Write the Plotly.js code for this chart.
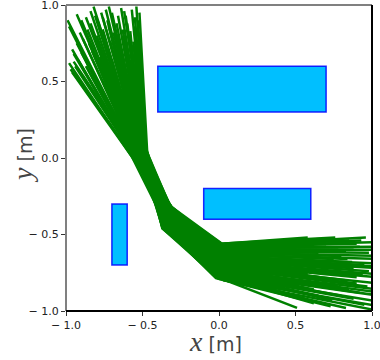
<!DOCTYPE html>
<html>
<head>
<meta charset="utf-8">
<script src="https://cdn.plot.ly/plotly-3.0.1.min.js"></script>
<style>html,body{margin:0;padding:0;background:#fff;}#chart{width:380px;height:360px;}</style>
</head>
<body>
<div id="chart"></div>
<script>
// Obstacles (x0, x1, y0, y1)
const obsX0 = [-0.4, -0.1, -0.7];
const obsX1 = [0.7, 0.6, -0.6];
const obsY0 = [0.3, -0.4, -0.7];
const obsY1 = [0.6, -0.2, -0.3];

// Trajectory waypoints: start, A, B, C, end
const startX = [-0.99,-0.93,-0.96,-0.95,-0.96,-0.87,-0.82,-0.77,-0.70,-0.91,-0.84,-0.76,-0.63,-0.54,-0.52,-0.52,-0.52,-0.57,-0.73,-0.69,-0.93,-0.94,-0.80,-0.66,-0.60,-0.55,-0.88,-0.78,-0.60,-0.56,-0.97,-0.85,-0.72,-0.64,-0.58,-0.90,-0.75,-0.68,-0.62,-0.53,
  -0.98,-0.90,-0.86,-0.79,-0.74,-0.67,-0.61,-0.58,-0.55,-0.53,-0.92,-0.89,-0.83,-0.81,-0.71,-0.65,-0.63,-0.59,-0.95,-0.87,-0.76,-0.70,-0.66,-0.57,-0.54,-0.98,-0.84,-0.78,-0.62,-0.72];
const startY = [0.90,0.94,0.71,0.63,0.56,0.92,0.99,0.95,0.95,0.82,0.88,0.92,0.84,0.99,0.95,0.82,0.59,0.97,0.90,0.82,0.75,0.60,0.80,0.93,0.70,0.92,0.66,0.72,0.88,0.76,0.58,0.75,0.86,0.98,0.64,0.69,0.78,0.70,0.78,0.70,
  0.86,0.90,0.84,0.89,0.97,0.88,0.93,0.83,0.86,0.90,0.64,0.78,0.70,0.93,0.76,0.74,0.66,0.58,0.68,0.60,0.84,0.64,0.80,0.72,0.62,0.62,0.96,0.66,0.96,0.99];
const aX = [-0.55,-0.54,-0.56,-0.55,-0.57,-0.53,-0.52,-0.51,-0.50,-0.54,-0.53,-0.51,-0.49,-0.48,-0.47,-0.48,-0.49,-0.48,-0.52,-0.50,-0.55,-0.56,-0.52,-0.50,-0.50,-0.48,-0.55,-0.52,-0.49,-0.49,-0.56,-0.54,-0.51,-0.49,-0.50,-0.55,-0.52,-0.51,-0.50,-0.48,
  -0.56,-0.55,-0.54,-0.53,-0.51,-0.50,-0.49,-0.50,-0.49,-0.48,-0.56,-0.55,-0.54,-0.53,-0.52,-0.51,-0.51,-0.51,-0.56,-0.55,-0.52,-0.52,-0.50,-0.49,-0.49,-0.57,-0.53,-0.53,-0.48,-0.50];
const aY = [0.03,0.04,0.02,0.03,0.01,0.04,0.05,0.04,0.05,0.03,0.04,0.05,0.05,0.06,0.05,0.04,0.03,0.06,0.04,0.04,0.02,0.02,0.03,0.05,0.03,0.06,0.02,0.03,0.05,0.04,0.01,0.03,0.04,0.06,0.03,0.02,0.03,0.04,0.04,0.05,
  0.03,0.04,0.03,0.04,0.05,0.04,0.05,0.04,0.05,0.05,0.02,0.03,0.02,0.04,0.03,0.03,0.02,0.02,0.02,0.01,0.04,0.02,0.04,0.03,0.03,0.01,0.05,0.02,0.06,0.05];
const bX = [-0.31,-0.32,-0.31,-0.32,-0.33,-0.33,-0.34,-0.34,-0.34,-0.35,-0.35,-0.36,-0.37,-0.37,-0.36,-0.31,-0.32,-0.32,-0.32,-0.33,-0.33,-0.34,-0.34,-0.35,-0.35,-0.36,-0.36,-0.37,-0.35,-0.36,-0.33,-0.31,-0.34,-0.36,-0.37,-0.32,-0.32,-0.34,-0.34,-0.35,
  -0.31,-0.31,-0.32,-0.33,-0.33,-0.34,-0.34,-0.35,-0.35,-0.36,-0.32,-0.33,-0.33,-0.34,-0.35,-0.36,-0.37,-0.36,-0.33,-0.34,-0.32,-0.36,-0.36,-0.34,-0.32,-0.35,-0.35,-0.35,-0.31,-0.31];
const bY = [-0.32,-0.33,-0.33,-0.35,-0.36,-0.37,-0.38,-0.39,-0.40,-0.41,-0.41,-0.43,-0.45,-0.46,-0.45,-0.33,-0.33,-0.34,-0.35,-0.36,-0.37,-0.37,-0.39,-0.40,-0.42,-0.44,-0.43,-0.45,-0.41,-0.43,-0.36,-0.32,-0.38,-0.42,-0.46,-0.34,-0.34,-0.40,-0.38,-0.42,
  -0.33,-0.32,-0.34,-0.37,-0.37,-0.38,-0.39,-0.42,-0.41,-0.44,-0.34,-0.36,-0.38,-0.40,-0.41,-0.44,-0.45,-0.45,-0.36,-0.39,-0.34,-0.42,-0.44,-0.38,-0.35,-0.43,-0.40,-0.42,-0.34,-0.33];
const cX = [0.02,0.00,0.03,-0.01,0.01,-0.02,0.02,0.00,-0.03,0.01,0.03,-0.01,0.02,0.00,-0.02,0.01,0.03,-0.02,0.00,0.02,-0.01,0.01,0.03,-0.02,0.00,0.02,-0.03,0.01,0.00,-0.01,0.02,0.00,-0.02,0.01,0.03,-0.01,0.02,0.00,-0.03,0.01,
  0.01,-0.02,0.02,0.00,-0.01,0.03,0.01,-0.02,0.00,0.02,-0.01,0.01,0.03,-0.02,0.00,0.02,-0.01,0.01,0.00,-0.03,0.02,0.01,-0.01,0.00,0.03,-0.02,0.01,0.00,0.02,-0.01];
const cY = [-0.56,-0.56,-0.57,-0.605,-0.63,-0.64,-0.66,-0.675,-0.69,-0.71,-0.72,-0.75,-0.79,-0.79,-0.785,-0.575,-0.58,-0.60,-0.61,-0.63,-0.65,-0.65,-0.68,-0.70,-0.73,-0.77,-0.75,-0.78,-0.71,-0.75,-0.62,-0.57,-0.67,-0.74,-0.80,-0.59,-0.60,-0.69,-0.66,-0.73,
  -0.575,-0.565,-0.60,-0.645,-0.64,-0.67,-0.68,-0.73,-0.72,-0.76,-0.59,-0.62,-0.655,-0.69,-0.71,-0.765,-0.785,-0.775,-0.63,-0.68,-0.59,-0.74,-0.76,-0.66,-0.61,-0.74,-0.70,-0.725,-0.59,-0.57];
const endX = [0.58,0.76,0.96,0.83,1.05,0.87,1.05,0.81,0.90,1.05,0.97,1.05,0.51,0.83,0.73,0.70,0.90,1.05,0.65,0.75,0.95,0.60,1.05,0.70,0.85,1.05,0.65,0.95,0.60,0.80,1.05,0.85,0.70,0.92,1.05,0.55,0.78,1.05,0.88,0.62,
  1.05,0.66,0.88,1.05,0.72,0.98,0.58,1.05,0.78,0.56,0.92,0.80,1.05,0.66,0.90,0.74,1.05,0.62,0.84,0.94,0.70,1.05,0.88,0.76,0.98,0.68,0.84,0.54,1.05,0.93];
const endY = [-0.52,-0.52,-0.52,-0.61,-0.66,-0.68,-0.72,-0.75,-0.78,-0.82,-0.84,-0.90,-0.98,-0.98,-0.97,-0.55,-0.56,-0.60,-0.62,-0.66,-0.70,-0.70,-0.76,-0.80,-0.86,-0.94,-0.90,-0.96,-0.82,-0.90,-0.64,-0.54,-0.74,-0.88,-1.00,-0.58,-0.60,-0.78,-0.72,-0.86,
  -0.55,-0.53,-0.60,-0.69,-0.68,-0.74,-0.76,-0.86,-0.84,-0.92,-0.58,-0.64,-0.71,-0.78,-0.82,-0.93,-0.97,-0.95,-0.66,-0.76,-0.58,-0.88,-0.92,-0.72,-0.62,-0.88,-0.80,-0.85,-0.58,-0.54];

const tickVals = [-1, -0.5, 0, 0.5, 1];
const tickText = ['\u2212 1.0', '\u2212 0.5', '0.0', '0.5', '1.0'];

const traces = startX.map((_, i) => ({
  type: 'scatter', mode: 'lines',
  x: [startX[i], aX[i], bX[i], cX[i], endX[i]],
  y: [startY[i], aY[i], bY[i], cY[i], endY[i]],
  line: {color: '#008000', width: 2.5},
  hoverinfo: 'skip', showlegend: false
}));

const shapes = obsX0.map((_, i) => ({
  type: 'rect', xref: 'x', yref: 'y', layer: 'below',
  x0: obsX0[i], x1: obsX1[i], y0: obsY0[i], y1: obsY1[i],
  fillcolor: '#00bfff', line: {color: 'rgba(0,0,255,0.85)', width: 1.5}
}));
shapes.push(
  {type: 'line', xref: 'paper', yref: 'paper', x0: 0, x1: 0, y0: 0, y1: 1, line: {color: '#808080', width: 2}, layer: 'above'},
  {type: 'line', xref: 'paper', yref: 'paper', x0: 0, x1: 1, y0: 1, y1: 1, line: {color: '#808080', width: 2}, layer: 'above'},
  {type: 'line', xref: 'paper', yref: 'paper', x0: 1, x1: 1, y0: 0, y1: 1, line: {color: '#000', width: 2}, layer: 'above'},
  {type: 'line', xref: 'paper', yref: 'paper', x0: 0, x1: 1, y0: 0, y1: 0, line: {color: '#000', width: 2}, layer: 'above'}
);

const axisCommon = {
  range: [-1, 1], tickvals: tickVals, ticktext: tickText,
  showgrid: false, zeroline: false, showline: false,
  ticks: 'outside', ticklen: 4, tickwidth: 1, tickcolor: '#333',
  ticklabeloverflow: 'allow',
  tickfont: {family: 'DejaVu Sans', size: 11, color: '#222'}
};

const layout = {
  width: 380, height: 360,
  margin: {l: 66, r: 8, t: 5, b: 49},
  paper_bgcolor: '#fff', plot_bgcolor: '#fff',
  xaxis: Object.assign({}, axisCommon),
  yaxis: Object.assign({}, axisCommon),
  shapes: shapes,
  annotations: [
    {xref: 'paper', yref: 'paper', x: (215 - 66) / 306, y: -(341 - 311) / 306,
     xanchor: 'center', yanchor: 'middle', showarrow: false,
     text: '<span style="font-family:Liberation Serif;font-style:italic;font-size:28px">x</span><span style="font-family:DejaVu Sans;font-size:19px"> [m]</span>'},
    {xref: 'paper', yref: 'paper', x: -(66 - 22) / 306, y: (311 - 156) / 306,
     xanchor: 'center', yanchor: 'middle', showarrow: false, textangle: -90,
     text: '<span style="font-family:Liberation Serif;font-style:italic;font-size:28px">y</span><span style="font-family:DejaVu Sans;font-size:19px"> [m]</span>'}
  ]
};

Plotly.newPlot('chart', traces, layout, {staticPlot: true, displayModeBar: false});
</script>
</body>
</html>
